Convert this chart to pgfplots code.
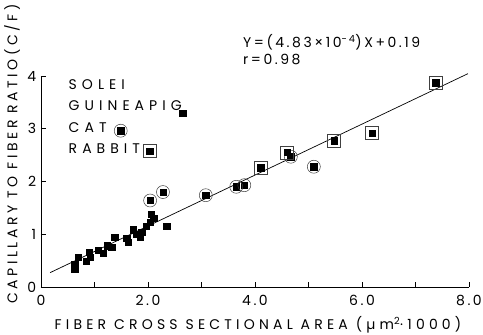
\documentclass[border=0pt]{standalone}
\usepackage{pgfplots}
\pgfplotsset{compat=1.18}
\usepackage{pgfplotstable}
\usepackage{fontspec}
\setmainfont{Poppins}[LetterSpace=18]
\newcommand{\f}{\fontsize{14}{16}\selectfont}
\newcommand{\fl}{\fontsize{14}{16}\selectfont\addfontfeatures{LetterSpace=36}}
\newcommand{\fx}{\fontsize{14}{16}\selectfont\addfontfeatures{LetterSpace=30}}
\newcommand{\fy}{\fontsize{14}{16}\selectfont\addfontfeatures{LetterSpace=25}}

\pgfplotstableread{
x y
0.63 0.43
0.63 0.34
0.70 0.56
0.84 0.49
0.90 0.66
0.92 0.56
1.07 0.70
1.16 0.64
1.24 0.78
1.32 0.75
1.38 0.94
1.60 0.92
1.63 0.85
1.72 1.09
1.79 1.00
1.85 0.94
1.88 1.04
1.97 1.15
2.04 1.23
2.06 1.38
2.11 1.30
2.35 1.15
}\guinea

\pgfplotstableread{
x y
2.04 1.64
2.28 1.80
3.08 1.74
3.65 1.90
3.80 1.93
4.67 2.47
5.10 2.28
}\cat

\pgfplotstableread{
x y
4.11 2.26
4.60 2.55
5.48 2.77
6.19 2.92
7.38 3.87
}\rabbit

\begin{document}
\f
\begin{tikzpicture}
\begin{axis}[
  at={(0,0)}, anchor=south west, scale only axis,
  width=428pt, height=211pt,
  xmin=0, xmax=8, ymin=0, ymax=4,
  axis x line=bottom, axis y line=left,
  axis line style={-, line width=0.9pt},
  xtick={0,1,...,8}, xticklabels={0,,2.0,,4.0,,6.0,,8.0},
  ytick={0,1,2,3,4},
  tick align=inside, major tick length=5pt,
  tick style={black, line width=0.8pt},
  ticklabel style={font=\f},
  xticklabel style={yshift=-3pt},
  /pgf/number format/assume math mode=true,
  clip=false,
  legend plot pos=right,
  legend cell align=left,
  legend style={draw=none, fill=none, font=\fl, at={(axis cs:0.477,3.98)}, anchor=north west,
    row sep=5.5pt, inner sep=0pt},
]
\addlegendimage{empty legend}
\addlegendentry{SOLEI}
\addlegendimage{legend image code/.code={\draw[overlay, black, mark=square*, mark size=3.2pt] plot coordinates {(-1pt,-6.5pt)};}}
\addlegendentry{GUINEAPIG}
\addlegendimage{legend image code/.code={\draw[overlay, black, mark=square*, mark size=3.2pt] plot coordinates {(-63pt,-2.5pt)};
  \draw[overlay, black!75, mark=o, mark size=6.5pt, line width=0.5pt] plot coordinates {(-63pt,-2.5pt)};}}
\addlegendentry{CAT}
\addlegendimage{legend image code/.code={\draw[overlay, black, mark=square*, mark size=3.2pt] plot coordinates {(-34pt,-1.5pt)};
  \draw[overlay, black!75, mark=square, mark size=6.5pt, line width=0.5pt] plot coordinates {(-34pt,-1.5pt)};}}
\addlegendentry{RABBIT}

\addplot[forget plot, black, line width=0.7pt, no marks] coordinates {(0.17,0.272) (7.98,4.044)};
\addplot[forget plot, only marks, mark=square*, mark size=3.2pt, black] table {\guinea};
\addplot[forget plot, only marks, mark=square*, mark size=3.2pt, black] table {\cat};
\addplot[forget plot, only marks, mark=o, mark size=6.5pt, black!75, mark options={line width=0.5pt}] table {\cat};
\addplot[forget plot, only marks, mark=square*, mark size=3.2pt, black] table {\rabbit};
\addplot[forget plot, only marks, mark=square, mark size=6.5pt, black!75, mark options={line width=0.5pt}] table {\rabbit};
\end{axis}
\node[anchor=base west, inner sep=0] at (202pt,239pt) {Y=(4.83×10\textsuperscript{-4})X+0.19};
\node[anchor=base west, inner sep=0] at (202pt,222pt) {r=0.98};
\node[inner sep=0, font=\fx] at (217pt,-38pt) {FIBER CROSS SECTIONAL AREA (µm\textsuperscript{2}·1000)};
\node[inner sep=0, rotate=90, font=\fy] at (-29pt,133pt) {CAPILLARY TO FIBER RATIO(C/F)};
\pgfresetboundingbox
\useasboundingbox (-41pt,-48pt) rectangle (442pt,287pt);
\end{tikzpicture}
\end{document}
